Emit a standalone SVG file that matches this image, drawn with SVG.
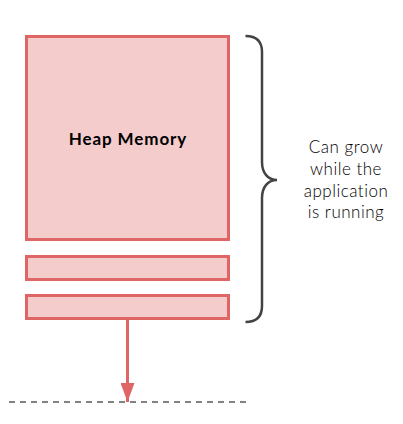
<svg xmlns="http://www.w3.org/2000/svg" width="403" height="424" viewBox="0 0 403 424">
<defs>
<style>
.blk{fill:#f4cccc;stroke:#e06666;stroke-width:3}
.lbl{font-family:Lato,"Liberation Sans",sans-serif;font-size:17px;fill:#000}
.note{font-weight:300;letter-spacing:0.5px}
</style>
<marker id="ah" viewBox="0 0 19 14" refX="19" refY="7" markerWidth="19" markerHeight="14" orient="auto" markerUnits="userSpaceOnUse">
<path d="M0,0 L19,7 L0,14 z" fill="#e06666"/>
</marker>
</defs>
<rect width="403" height="424" fill="#fff"/>
<g id="heap">
<rect class="blk" x="26.5" y="36.5" width="202" height="203"/>
<text class="lbl" x="128" y="145" text-anchor="middle" font-weight="bold" letter-spacing="0.9">Heap Memory</text>
</g>
<g id="block1"><rect class="blk" x="26.5" y="256.5" width="202" height="23"/></g>
<g id="block2"><rect class="blk" x="26.5" y="295.5" width="202" height="23"/></g>
<g id="brace">
<path d="M245.5,36 C256,36 262,41 262,52 L262,162 C262,173 268,180 277,180 C268,180 262,187 262,198 L262,306 C262,317 256,322 245.5,322" fill="none" stroke="#434343" stroke-width="2.5"/>
</g>
<g id="note">
<text class="lbl note" x="346" y="153" text-anchor="middle">Can grow</text>
<text class="lbl note" x="346" y="175" text-anchor="middle">while the</text>
<text class="lbl note" x="346" y="197" text-anchor="middle">application</text>
<text class="lbl note" x="346" y="218" text-anchor="middle">is running</text>
</g>
<g id="baseline">
<line x1="9" y1="402" x2="246" y2="402" stroke="#595959" stroke-width="1.5" stroke-dasharray="6,5"/>
</g>
<g id="connectors">
<line x1="127.5" y1="320" x2="127.5" y2="402" stroke="#e06666" stroke-width="3" marker-end="url(#ah)"/>
</g>
</svg>
